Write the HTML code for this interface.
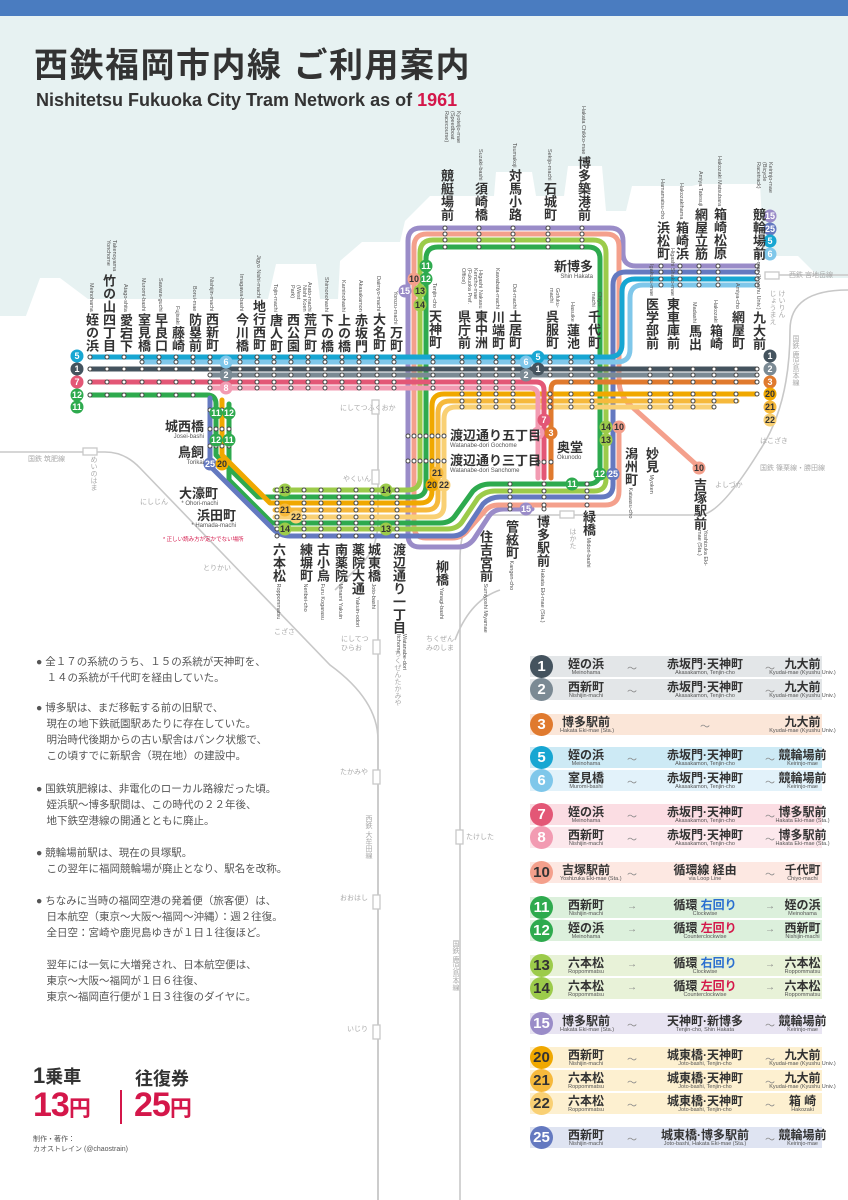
<!DOCTYPE html>
<html><head><meta charset="utf-8"><style>
*{margin:0;padding:0;box-sizing:border-box}
body{width:848px;height:1200px;position:relative;background:#fff;font-family:"Liberation Sans","Noto Sans CJK JP",sans-serif;color:#333;overflow:hidden}
.a{position:absolute}
.s{position:absolute;writing-mode:vertical-rl;font-weight:bold;font-size:13px;line-height:14px;color:#333;white-space:nowrap}
.s i{font-style:normal;font-weight:normal;font-size:5.5px;color:#555;line-height:6px}
.s i.w{display:inline-block;white-space:normal;line-height:6px}
.h{position:absolute;font-weight:bold;font-size:13px;color:#333;white-space:nowrap;line-height:14px}
.h i{display:block;font-style:normal;font-weight:normal;font-size:6px;color:#555;line-height:7px}
.g{position:absolute;font-size:7px;color:#aaa;white-space:nowrap}
.gv{position:absolute;font-size:7px;color:#aaa;writing-mode:vertical-rl;white-space:nowrap}
.r{position:absolute;left:530px;width:292px;height:21px}
.r .n{position:absolute;left:0;top:-1px;width:23px;height:23px;border-radius:50%;color:#fff;font-weight:bold;font-size:15px;text-align:center;line-height:23px}
.r .c{position:absolute;text-align:center;font-weight:bold;font-size:12px;line-height:12px;top:2px;white-space:nowrap}
.r .c i{display:block;font-style:normal;font-weight:normal;font-size:5.5px;line-height:7px;color:#555}
.r .t{position:absolute;top:4px;font-size:10px;color:#888}
.p{position:absolute;left:36px;font-size:10.5px;line-height:16px;color:#555;white-space:nowrap}
</style></head><body>
<div class="a" style="left:0;top:0;width:848px;height:16px;background:#4a7cc0"></div>
<svg class="a" style="left:0;top:16px" width="848" height="300">
<rect width="848" height="300" fill="#e7f2f2"/>
<path d="M0,370 L40,262 L60,262 L88,283 L268,283 L276,248 L316,248 L320,283 L338,283 L340,245 L362,226 L400,226 L405,205 L430,180 L494,180 L496,156 L532,156 L536,180 L564,180 L568,150 L602,150 L606,195 L626,195 L632,170 L692,170 L700,168 L760,168 L764,240 L798,240 L820,262 L848,262 L848,300 L0,300 Z" fill="#fff"/>
</svg>
<div class="a" style="left:34px;top:44px;font-size:34px;font-weight:bold;color:#333;letter-spacing:1.5px;line-height:44px">西鉄福岡市内線 ご利用案内</div>
<div class="a" style="left:36px;top:90px;font-size:18px;font-weight:bold;color:#333">Nishitetsu Fukuoka City Tram Network as of <span style="color:#d4174a">1961</span></div>

<svg class="a" id="m" style="left:0;top:0" width="848" height="1200">
<g fill="none" stroke="#c8c8c8" stroke-width="1.6">
<path d="M0,452 H105 Q125,452 140,468 L330,665 Q378,700 378,740 V1200"/>
<path d="M378,400 V520 Q378,545 365,560 L335,590"/>
<path d="M378,600 V1200"/>
<path d="M460,1200 V560 Q460,520 480,515 H700 Q720,515 760,450 Q790,405 790,330 Q790,290 848,290"/>
<path d="M765,275 H848"/>
<path d="M455,640 Q470,600 500,590"/>
</g>
<g fill="#fff" stroke="#c8c8c8" stroke-width="1.3">
<rect x="83" y="448" width="14" height="7"/><rect x="372" y="400" width="7" height="14"/><rect x="372" y="470" width="7" height="14"/>
<rect x="373" y="640" width="7" height="14"/><rect x="373" y="770" width="7" height="14"/><rect x="373" y="895" width="7" height="14"/><rect x="373" y="1025" width="7" height="14"/>
<rect x="456" y="830" width="7" height="14"/><rect x="560" y="511" width="14" height="7"/><rect x="765" y="272" width="14" height="7"/>
</g>
<g fill="none" stroke-width="5" stroke-linejoin="round" stroke-linecap="round">
<path stroke="#9a8cc8" d="M757,266 H636 Q623,266 623,253 V241 Q623,228 610,228 H421 Q408,228 408,241 V535 Q408,547 420,547 H458 Q468,547 474,539 L489,516 Q494,509 504,509 H532"/>
<path stroke="#f4a08c" d="M700,468 L630,405 Q619,395 619,380 V247 Q619,234 606,234 H427 Q414,234 414,247 V526 Q414,538 426,538 H452 Q462,538 468,530 L484,512 Q489,505 499,505 H605 Q619,505 619,491 V430"/>
<path stroke="#9ccb4a" d="M275,490 H408 Q420,490 420,478 V253 Q420,240 433,240 H593 Q606,240 606,253 V479 Q606,491 594,491 H495 Q485,491 478,498 L462,522 Q457,529 447,529 H275"/>
<path stroke="#2eaa4e" d="M90,395 H207 Q216,395 216,404 V455 L258,497 H414 Q426,497 426,485 V259 Q426,247 438,247 H588 Q600,247 600,259 V472 Q600,484 588,484 H490 Q480,484 473,491 L455,516 Q450,523 440,523 H272 L229,480 V404"/>
<path stroke="#6479c0" d="M757,272 H626 Q613,272 613,285 V485 Q613,497 601,497 H500 Q490,497 483,504 L467,528 Q462,536 452,536 H290 Q280,536 273,529 L210,466 V398"/>
<path stroke="#f9d074" d="M275,517 H432 Q444,517 444,505 V419 Q444,407 456,407 H714"/>
<path stroke="#f6b93c" d="M275,510 H426 Q438,510 438,498 V413 Q438,401 450,401 H737"/>
<path stroke="#f0a800" d="M222,400 V455 L270,503 H420 Q432,503 432,491 V406 Q432,394 444,394 H757"/>
<path stroke="#e07a2e" d="M757,382 H557 Q551,382 551,390 V478"/>
<path stroke="#f29bb2" d="M210,388 H530 Q538,388 538,396 V478"/>
<path stroke="#e35776" d="M90,382 H536 Q544,382 544,390 V478"/>
<path stroke="#7b8a94" d="M210,375 H757"/>
<path stroke="#44535e" d="M90,369 H757"/>
<path stroke="#7fc7ea" d="M142,362 H617 Q630,362 630,349 V298 Q630,285 643,285 H757"/>
<path stroke="#17a6d2" d="M90,357 H609 Q622,357 622,344 V292 Q622,279 635,279 H757"/>
</g>
<g id="dots" fill="#fff" stroke="#444" stroke-width="1"></g>
<g id="bd" font-weight="bold" font-size="9" text-anchor="middle" font-family="Liberation Sans"></g>
</svg>
<script>
(function(){
var d=document.getElementById('dots'),ns='http://www.w3.org/2000/svg';
function c(x,y){var e=document.createElementNS(ns,'circle');e.setAttribute('cx',x);e.setAttribute('cy',y);e.setAttribute('r',2);d.appendChild(e);}
var W=[90,107,124,142,159,176,193,210,240,257,274,291,308,325,342,359,377,394],C=[433,462,479,496,513,550,571,592],E=[650,671,693,714,736,757];
function row(xs,y,min,max){xs.forEach(function(x){if(x>=min&&x<=max)c(x,y);});}
row(W.concat(C),357,0,999);row(W.concat(C),362,142,999);row(W.concat(C,E),369,0,999);row(W.concat(C,E),375,210,999);
row(W.concat([433,462,479,496,513]),382,0,999);row([571,592].concat(E),382,0,999);row(W.concat([433,462,479,496,513]),388,210,999);row(W,395,0,193);
var O=[462,479,496,513,550,571,592].concat(E);row(O,394,0,999);row(O,401,0,737);row(O,407,0,714);
[228,234,240,247].forEach(function(y){row([445,479,513,548,582],y,0,999)});
[266,272,279,285].forEach(function(y){row([661,680,699,718,757],y,0,999)});
[490,497,503,510,517,523,529,536].forEach(function(y){row([277,304,321,339,356,372,397],y,0,999)});
[484,491,497,505,509].forEach(function(y){row([510,544],y,0,999)});[484,491,497,505].forEach(function(y){row([587],y,0,999)});
[436,461].forEach(function(y){row([408,414,420,426,432,438,444],y,0,999)});
[410,429,446].forEach(function(y){row([210,216,222,229],y,0,999)});
[462].forEach(function(y){row([538,544,551],y,0,999)});
var b=document.getElementById('bd');
function bg(x,y,t,f,tc){var e=document.createElementNS(ns,'circle');e.setAttribute('cx',x);e.setAttribute('cy',y);e.setAttribute('r',6.5);e.setAttribute('fill',f);b.appendChild(e);var s=document.createElementNS(ns,'text');s.setAttribute('x',x);s.setAttribute('y',y+3.2);s.setAttribute('fill',tc||'#fff');s.textContent=t;b.appendChild(s);}
bg(77,356,'5','#17a6d2');bg(77,369,'1','#44535e');bg(77,382,'7','#e35776');bg(77,395,'12','#2eaa4e');bg(77,407,'11','#2eaa4e');
bg(770,356,'1','#44535e');bg(770,369,'2','#7b8a94');bg(770,382,'3','#e07a2e');bg(770,394,'20','#f0a800','#333');bg(770,407,'21','#f6b93c','#333');bg(770,420,'22','#f9d074','#333');
bg(770,216,'15','#9a8cc8');bg(770,229,'25','#6479c0');bg(770,241,'5','#17a6d2');bg(770,254,'6','#7fc7ea');
bg(226,362,'6','#7fc7ea');bg(226,375,'2','#7b8a94');bg(226,388,'8','#f29bb2');bg(538,357,'5','#17a6d2');bg(526,362,'6','#7fc7ea');bg(538,369,'1','#44535e');bg(526,375,'2','#7b8a94');
bg(426,266,'11','#2eaa4e');bg(426,279,'12','#2eaa4e');bg(414,279,'10','#f4a08c','#333');bg(420,291,'13','#9ccb4a','#333');bg(420,305,'14','#9ccb4a','#333');bg(405,291,'15','#9a8cc8');
bg(216,413,'11','#2eaa4e');bg(229,413,'12','#2eaa4e');bg(216,440,'12','#2eaa4e');bg(229,440,'11','#2eaa4e');bg(210,464,'25','#6479c0');bg(222,464,'20','#f0a800','#333');
bg(285,490,'13','#9ccb4a','#333');bg(386,490,'14','#9ccb4a','#333');bg(285,510,'21','#f6b93c','#333');bg(296,517,'22','#f9d074','#333');bg(285,529,'14','#9ccb4a','#333');bg(386,529,'13','#9ccb4a','#333');
bg(437,473,'21','#f6b93c','#333');bg(432,485,'20','#f0a800','#333');bg(444,485,'22','#f9d074','#333');
bg(544,420,'7','#e35776');bg(538,433,'8','#f29bb2');bg(551,433,'3','#e07a2e');bg(572,484,'11','#2eaa4e');bg(600,474,'12','#2eaa4e');bg(613,474,'25','#6479c0');
bg(606,427,'14','#9ccb4a','#333');bg(619,427,'10','#f4a08c','#333');bg(606,440,'13','#9ccb4a','#333');bg(526,509,'15','#9a8cc8');bg(699,468,'10','#f4a08c','#333');
})();
</script>

<!-- west station labels -->
<div class="s" style="left:84px;bottom:848px"><i>Meinohama </i>姪の浜</div>
<div class="s" style="left:101px;bottom:848px"><i class="w" style="height:34px">Takenoyama Yonchome</i>竹の山四丁目</div>
<div class="s" style="left:118px;bottom:848px"><i>Atago-shita </i>愛宕下</div>
<div class="s" style="left:136px;bottom:848px"><i>Muromi-bashi </i>室見橋</div>
<div class="s" style="left:153px;bottom:848px"><i>Sawara-guchi </i>早良口</div>
<div class="s" style="left:170px;bottom:848px"><i>Fujisaki </i>藤崎</div>
<div class="s" style="left:187px;bottom:848px"><i>Borui-mae </i>防塁前</div>
<div class="s" style="left:204px;bottom:848px"><i>Nishijin-machi </i>西新町</div>
<div class="s" style="left:234px;bottom:848px"><i>Imagawa-bashi </i>今川橋</div>
<div class="s" style="left:251px;bottom:848px"><i>Jigyo Nishi-machi </i>地行西町</div>
<div class="s" style="left:268px;bottom:848px"><i>Tojin-machi </i>唐人町</div>
<div class="s" style="left:285px;bottom:848px"><i class="w" style="height:28px">Nishi Koen (West Park)</i>西公園</div>
<div class="s" style="left:302px;bottom:848px"><i>Arato-machi </i>荒戸町</div>
<div class="s" style="left:319px;bottom:848px"><i>Shimonohashi </i>下の橋</div>
<div class="s" style="left:336px;bottom:848px"><i>Kaminohashi </i>上の橋</div>
<div class="s" style="left:353px;bottom:848px"><i>Akasakamon </i>赤坂門</div>
<div class="s" style="left:371px;bottom:848px"><i>Daimyo-machi </i>大名町</div>
<div class="s" style="left:388px;bottom:848px"><i>Yorozu-machi </i>万町</div>
<!-- center -->
<div class="s" style="left:427px;bottom:851px"><i>Tenjin-cho </i>天神町</div>
<div class="s" style="left:456px;bottom:851px"><i class="w" style="height:42px">Kencho-mae (Fukuoka Pref. Office)</i>県庁前</div>
<div class="s" style="left:473px;bottom:851px"><i>Higashi Nakasu </i>東中洲</div>
<div class="s" style="left:490px;bottom:851px"><i>Kawabata-machi </i>川端町</div>
<div class="s" style="left:507px;bottom:851px"><i>Doi-machi </i>土居町</div>
<div class="s" style="left:544px;bottom:851px"><i class="w" style="height:22px">Gofuku-machi</i>呉服町</div>
<div class="s" style="left:565px;bottom:851px"><i>Hasuike </i>蓮池</div>
<div class="s" style="left:586px;bottom:851px"><i class="w" style="height:18px">Chiyo-machi</i>千代町</div>
<div class="s" style="left:644px;bottom:850px"><i>Igakubu-mae </i>医学部前</div>
<div class="s" style="left:665px;bottom:850px"><i>Higashi Shako-mae </i>東車庫前</div>
<div class="s" style="left:687px;bottom:850px"><i>Madashi </i>馬出</div>
<div class="s" style="left:708px;bottom:850px"><i>Hakozaki </i>箱崎</div>
<div class="s" style="left:730px;bottom:850px"><i>Amiya-cho </i>網屋町</div>
<div class="s" style="left:751px;bottom:850px"><i>Kyudai-mae (Kyushu Univ.) </i>九大前</div>
<!-- top loop -->
<div class="s" style="left:439px;bottom:979px"><i class="w" style="height:58px">Kyoteijo-mae (Speedboat Racecourse)</i>競艇場前</div>
<div class="s" style="left:473px;bottom:979px"><i>Suzaki-bashi </i>須崎橋</div>
<div class="s" style="left:507px;bottom:979px"><i>Tsumakoji </i>対馬小路</div>
<div class="s" style="left:542px;bottom:979px"><i>Sekijo-machi </i>石城町</div>
<div class="s" style="left:576px;bottom:979px"><i>Hakata Chikko-mae </i>博多築港前</div>
<div class="s" style="left:655px;bottom:940px"><i>Hamamatsu-cho </i>浜松町</div>
<div class="s" style="left:674px;bottom:940px"><i>Hakozakihama </i>箱崎浜</div>
<div class="s" style="left:693px;bottom:940px"><i>Amiya Tatesuji </i>網屋立筋</div>
<div class="s" style="left:712px;bottom:940px"><i>Hakozaki Matsubara </i>箱崎松原</div>
<div class="s" style="left:751px;bottom:940px"><i class="w" style="height:46px">Keirinjo-mae (Bicycle Racetrack)</i>競輪場前</div>
<!-- bottom -->
<div class="s" style="left:271px;top:543px">六本松<i> Roppommatsu</i></div>
<div class="s" style="left:298px;top:543px">練塀町<i> Neribei-cho</i></div>
<div class="s" style="left:315px;top:543px">古小烏<i> Furu Kogarasu</i></div>
<div class="s" style="left:333px;top:543px">南薬院<i> Minami Yakuin</i></div>
<div class="s" style="left:350px;top:543px">薬院大通<i> Yakuin-odori</i></div>
<div class="s" style="left:366px;top:543px">城東橋<i> Joto-bashi</i></div>
<div class="s" style="left:391px;top:543px">渡辺通り一丁目<i class="w" style="height:40px">Watanabe-dori Itchome</i></div>
<div class="s" style="left:434px;top:560px">柳橋<i> Yanagi-bashi</i></div>
<div class="s" style="left:478px;top:530px">住吉宮前<i> Sumiyoshi Miyamae</i></div>
<div class="s" style="left:504px;top:520px">管絃町<i> Kangen-cho</i></div>
<div class="s" style="left:535px;top:515px">博多駅前<i> Hakata Eki-mae (Sta.)</i></div>
<div class="s" style="left:581px;top:510px">緑橋<i> Midori-bashi</i></div>
<div class="s" style="left:623px;top:447px">潟州町<i> Kataasu-cho</i></div>
<div class="s" style="left:644px;top:447px">妙見<i> Myoken</i></div>
<div class="s" style="left:692px;top:478px">吉塚駅前<i class="w" style="height:40px">Yoshizuka Eki-mae (Sta.)</i></div>
<!-- horizontal labels -->
<div class="h" style="right:644px;top:420px;text-align:right">城西橋<i>Josei-bashi</i></div>
<div class="h" style="right:644px;top:446px;text-align:right">鳥飼<i>Torikai</i></div>
<div class="h" style="right:630px;top:487px;text-align:right">大濠町<i>* Ohori-machi</i></div>
<div class="h" style="right:612px;top:509px;text-align:right">浜田町<i>* Hamada-machi</i></div>
<div class="a" style="left:163px;top:535px;font-size:5.5px;color:#d4174a">* 正しい読み方が定かでない場所</div>
<div class="h" style="left:450px;top:429px">渡辺通り五丁目<i>Watanabe-dori Gochome</i></div>
<div class="h" style="left:450px;top:454px">渡辺通り三丁目<i>Watanabe-dori Sanchome</i></div>
<div class="h" style="left:557px;top:441px">奥堂<i>Okunodo</i></div>
<div class="h" style="right:255px;top:260px;text-align:right">新博多<i>Shin Hakata</i></div>
<div class="g" style="left:340px;top:403px">にしてつふくおか</div>
<div class="g" style="left:343px;top:474px">やくいん</div>
<div class="g" style="left:28px;top:454px">国鉄 筑肥線</div>
<div class="gv" style="left:88px;top:456px">めいのはま</div>
<div class="g" style="left:140px;top:497px">にしじん</div>
<div class="g" style="left:203px;top:563px">とりかい</div>
<div class="g" style="left:274px;top:627px">こざさ</div>
<div class="g" style="left:341px;top:635px;line-height:9px">にしてつ<br>ひらお</div>
<div class="g" style="left:426px;top:635px;line-height:9px">ちくぜん<br>みのしま</div>
<div class="gv" style="left:392px;top:650px">ちくぜんたかみや</div>
<div class="g" style="left:340px;top:767px">たかみや</div>
<div class="gv" style="left:363px;top:815px">西鉄 大牟田線</div>
<div class="g" style="left:340px;top:893px">おおはし</div>
<div class="g" style="left:347px;top:1024px">いじり</div>
<div class="g" style="left:466px;top:832px">たけした</div>
<div class="gv" style="left:450px;top:940px">国鉄 鹿児島本線</div>
<div class="gv" style="left:567px;top:528px">はかた</div>
<div class="g" style="left:789px;top:270px">西鉄 宮地岳線</div>
<div class="gv" style="left:768px;top:290px;line-height:9px">けいりん<br>じょうまえ</div>
<div class="gv" style="left:790px;top:335px">国鉄 鹿児島本線</div>
<div class="g" style="left:760px;top:436px">はこざき</div>
<div class="g" style="left:760px;top:463px">国鉄 篠栗線・勝田線</div>
<div class="g" style="left:715px;top:480px">よしづか</div>

<!-- notes -->
<div class="p" style="top:654px">● 全１７の系統のうち、１５の系統が天神町を、<br>　１４の系統が千代町を経由していた。</div>
<div class="p" style="top:700px">● 博多駅は、まだ移転する前の旧駅で、<br>　現在の地下鉄祇園駅あたりに存在していた。<br>　明治時代後期からの古い駅舎はパンク状態で、<br>　この頃すでに新駅舎（現在地）の建設中。</div>
<div class="p" style="top:781px">● 国鉄筑肥線は、非電化のローカル路線だった頃。<br>　姪浜駅〜博多駅間は、この時代の２２年後、<br>　地下鉄空港線の開通とともに廃止。</div>
<div class="p" style="top:845px">● 競輪場前駅は、現在の貝塚駅。<br>　この翌年に福岡競輪場が廃止となり、駅名を改称。</div>
<div class="p" style="top:893px">● ちなみに当時の福岡空港の発着便（旅客便）は、<br>　日本航空（東京〜大阪〜福岡〜沖縄）：週２往復。<br>　全日空：宮崎や鹿児島ゆきが１日１往復ほど。</div>
<div class="p" style="top:957px">　翌年には一気に大増発され、日本航空便は、<br>　東京〜大阪〜福岡が１日６往復、<br>　東京〜福岡直行便が１日３往復のダイヤに。</div>

<div class="a" style="left:33px;top:1063px;font-size:18px;font-weight:bold;color:#333"><span style="font-size:22px">1</span>乗車</div>
<div class="a" style="left:135px;top:1065px;font-size:18px;font-weight:bold;color:#333">往復券</div>
<div class="a" style="left:33px;top:1086px;font-size:34px;font-weight:bold;color:#d4174a;letter-spacing:-1px">13<span style="font-size:22px">円</span></div>
<div class="a" style="left:120px;top:1090px;width:1.5px;height:34px;background:#d4174a"></div>
<div class="a" style="left:134px;top:1086px;font-size:34px;font-weight:bold;color:#d4174a;letter-spacing:-1px">25<span style="font-size:22px">円</span></div>
<div class="a" style="left:33px;top:1135px;font-size:7px;line-height:10px;color:#555">制作・著作：<br>カオストレイン (@chaostrain)</div>

<!-- legend -->
<div class="r" style="top:656px;background:#e3e6e8"><div class="n" style="background:#44535e">1</div><div class="c" style="left:30px;width:52px">姪の浜<i>Meinohama</i></div><div class="t" style="left:97px">〜</div><div class="c" style="left:125px;width:100px">赤坂門·天神町<i>Akasakamon, Tenjin-cho</i></div><div class="t" style="left:235px">〜</div><div class="c" style="left:225px;width:95px">九大前<i>Kyudai-mae (Kyushu Univ.)</i></div></div>
<div class="r" style="top:679px;background:#e3e6e8"><div class="n" style="background:#7b8a94">2</div><div class="c" style="left:30px;width:52px">西新町<i>Nishijin-machi</i></div><div class="t" style="left:97px">〜</div><div class="c" style="left:125px;width:100px">赤坂門·天神町<i>Akasakamon, Tenjin-cho</i></div><div class="t" style="left:235px">〜</div><div class="c" style="left:225px;width:95px">九大前<i>Kyudai-mae (Kyushu Univ.)</i></div></div>
<div class="r" style="top:714px;background:#fbe6d8"><div class="n" style="background:#e07a2e">3</div><div class="c" style="left:30px;width:52px">博多駅前<i>Hakata Eki-mae (Sta.)</i></div><div class="t" style="left:170px">〜</div><div class="c" style="left:225px;width:95px">九大前<i>Kyudai-mae (Kyushu Univ.)</i></div></div>
<div class="r" style="top:747px;background:#cdeaf5"><div class="n" style="background:#17a6d2">5</div><div class="c" style="left:30px;width:52px">姪の浜<i>Meinohama</i></div><div class="t" style="left:97px">〜</div><div class="c" style="left:125px;width:100px">赤坂門·天神町<i>Akasakamon, Tenjin-cho</i></div><div class="t" style="left:235px">〜</div><div class="c" style="left:225px;width:95px">競輪場前<i>Keirinjo-mae</i></div></div>
<div class="r" style="top:770px;background:#e2f2fa"><div class="n" style="background:#7fc7ea">6</div><div class="c" style="left:30px;width:52px">室見橋<i>Muromi-bashi</i></div><div class="t" style="left:97px">〜</div><div class="c" style="left:125px;width:100px">赤坂門·天神町<i>Akasakamon, Tenjin-cho</i></div><div class="t" style="left:235px">〜</div><div class="c" style="left:225px;width:95px">競輪場前<i>Keirinjo-mae</i></div></div>
<div class="r" style="top:804px;background:#fbdde3"><div class="n" style="background:#e35776">7</div><div class="c" style="left:30px;width:52px">姪の浜<i>Meinohama</i></div><div class="t" style="left:97px">〜</div><div class="c" style="left:125px;width:100px">赤坂門·天神町<i>Akasakamon, Tenjin-cho</i></div><div class="t" style="left:235px">〜</div><div class="c" style="left:225px;width:95px">博多駅前<i>Hakata Eki-mae (Sta.)</i></div></div>
<div class="r" style="top:827px;background:#fce8ec"><div class="n" style="background:#f29bb2">8</div><div class="c" style="left:30px;width:52px">西新町<i>Nishijin-machi</i></div><div class="t" style="left:97px">〜</div><div class="c" style="left:125px;width:100px">赤坂門·天神町<i>Akasakamon, Tenjin-cho</i></div><div class="t" style="left:235px">〜</div><div class="c" style="left:225px;width:95px">博多駅前<i>Hakata Eki-mae (Sta.)</i></div></div>
<div class="r" style="top:862px;background:#fde8e2"><div class="n" style="background:#f4a08c;color:#333">10</div><div class="c" style="left:30px;width:52px">吉塚駅前<i>Yoshizuka Eki-mae (Sta.)</i></div><div class="t" style="left:97px">〜</div><div class="c" style="left:125px;width:100px">循環線 経由<i>via Loop Line</i></div><div class="t" style="left:235px">〜</div><div class="c" style="left:225px;width:95px">千代町<i>Chiyo-machi</i></div></div>
<div class="r" style="top:897px;background:#dcf0dc"><div class="n" style="background:#2eaa4e">11</div><div class="c" style="left:30px;width:52px">西新町<i>Nishijin-machi</i></div><div class="t" style="left:97px">→</div><div class="c" style="left:125px;width:100px">循環 <span style="color:#2a6fd0">右回り</span><i>Clockwise</i></div><div class="t" style="left:235px">→</div><div class="c" style="left:225px;width:95px">姪の浜<i>Meinohama</i></div></div>
<div class="r" style="top:920px;background:#dcf0dc"><div class="n" style="background:#2eaa4e">12</div><div class="c" style="left:30px;width:52px">姪の浜<i>Meinohama</i></div><div class="t" style="left:97px">→</div><div class="c" style="left:125px;width:100px">循環 <span style="color:#d4174a">左回り</span><i>Counterclockwise</i></div><div class="t" style="left:235px">→</div><div class="c" style="left:225px;width:95px">西新町<i>Nishijin-machi</i></div></div>
<div class="r" style="top:955px;background:#e8f2d8"><div class="n" style="background:#9ccb4a;color:#333">13</div><div class="c" style="left:30px;width:52px">六本松<i>Roppommatsu</i></div><div class="t" style="left:97px">→</div><div class="c" style="left:125px;width:100px">循環 <span style="color:#2a6fd0">右回り</span><i>Clockwise</i></div><div class="t" style="left:235px">→</div><div class="c" style="left:225px;width:95px">六本松<i>Roppommatsu</i></div></div>
<div class="r" style="top:978px;background:#e8f2d8"><div class="n" style="background:#9ccb4a;color:#333">14</div><div class="c" style="left:30px;width:52px">六本松<i>Roppommatsu</i></div><div class="t" style="left:97px">→</div><div class="c" style="left:125px;width:100px">循環 <span style="color:#d4174a">左回り</span><i>Counterclockwise</i></div><div class="t" style="left:235px">→</div><div class="c" style="left:225px;width:95px">六本松<i>Roppommatsu</i></div></div>
<div class="r" style="top:1013px;background:#e8e4f2"><div class="n" style="background:#9a8cc8">15</div><div class="c" style="left:30px;width:52px">博多駅前<i>Hakata Eki-mae (Sta.)</i></div><div class="t" style="left:97px">〜</div><div class="c" style="left:125px;width:100px">天神町·新博多<i>Tenjin-cho, Shin Hakata</i></div><div class="t" style="left:235px">〜</div><div class="c" style="left:225px;width:95px">競輪場前<i>Keirinjo-mae</i></div></div>
<div class="r" style="top:1047px;background:#fdf0d0"><div class="n" style="background:#f0a800;color:#333">20</div><div class="c" style="left:30px;width:52px">西新町<i>Nishijin-machi</i></div><div class="t" style="left:97px">〜</div><div class="c" style="left:125px;width:100px">城東橋·天神町<i>Joto-bashi, Tenjin-cho</i></div><div class="t" style="left:235px">〜</div><div class="c" style="left:225px;width:95px">九大前<i>Kyudai-mae (Kyushu Univ.)</i></div></div>
<div class="r" style="top:1070px;background:#fdf0d0"><div class="n" style="background:#f6b93c;color:#333">21</div><div class="c" style="left:30px;width:52px">六本松<i>Roppommatsu</i></div><div class="t" style="left:97px">〜</div><div class="c" style="left:125px;width:100px">城東橋·天神町<i>Joto-bashi, Tenjin-cho</i></div><div class="t" style="left:235px">〜</div><div class="c" style="left:225px;width:95px">九大前<i>Kyudai-mae (Kyushu Univ.)</i></div></div>
<div class="r" style="top:1093px;background:#fdf0d0"><div class="n" style="background:#f9d074;color:#333">22</div><div class="c" style="left:30px;width:52px">六本松<i>Roppommatsu</i></div><div class="t" style="left:97px">〜</div><div class="c" style="left:125px;width:100px">城東橋·天神町<i>Joto-bashi, Tenjin-cho</i></div><div class="t" style="left:235px">〜</div><div class="c" style="left:225px;width:95px">箱 崎<i>Hakozaki</i></div></div>
<div class="r" style="top:1127px;background:#dfe4f2"><div class="n" style="background:#6479c0">25</div><div class="c" style="left:30px;width:52px">西新町<i>Nishijin-machi</i></div><div class="t" style="left:97px">〜</div><div class="c" style="left:125px;width:100px">城東橋·博多駅前<i>Joto-bashi, Hakata Eki-mae (Sta.)</i></div><div class="t" style="left:235px">〜</div><div class="c" style="left:225px;width:95px">競輪場前<i>Keirinjo-mae</i></div></div>
</body></html>
